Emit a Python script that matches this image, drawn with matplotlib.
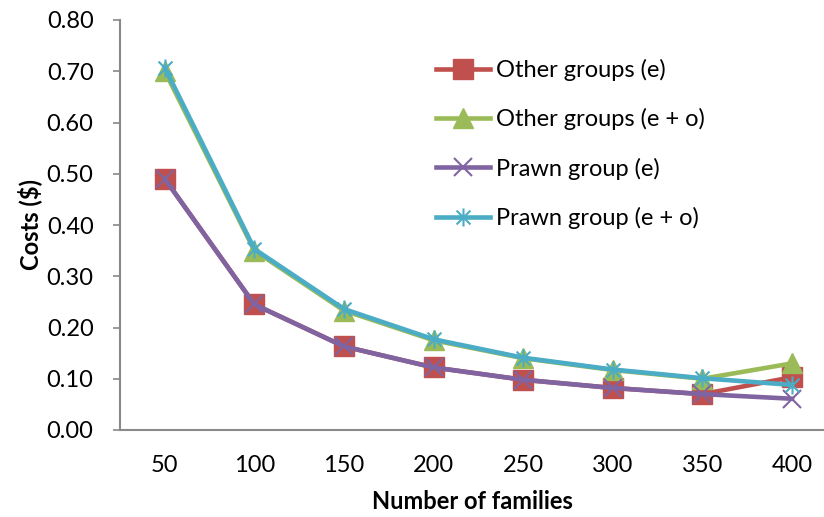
import matplotlib.pyplot as plt
from matplotlib.path import Path

plt.rcParams['font.family'] = ['Lato', 'DejaVu Sans']

families = [50, 100, 150, 200, 250, 300, 350, 400]
other_e = [0.490, 0.245, 0.163, 0.122, 0.098, 0.082, 0.070, 0.103]
other_eo = [0.700, 0.350, 0.233, 0.175, 0.140, 0.117, 0.100, 0.130]
prawn_e = [0.490, 0.245, 0.163, 0.122, 0.098, 0.082, 0.070, 0.061]
prawn_eo = [0.707, 0.353, 0.236, 0.177, 0.141, 0.118, 0.101, 0.088]

# Excel-style asterisk: an x with a vertical bar
star = Path([(-1, -1), (1, 1), (-1, 1), (1, -1), (0, -1.3), (0, 1.3)],
            [Path.MOVETO, Path.LINETO, Path.MOVETO, Path.LINETO, Path.MOVETO, Path.LINETO])

fig = plt.figure(figsize=(8.24, 5.17), dpi=100)
ax = fig.add_axes([120 / 824, 1 - 430 / 517, 1 - 120 / 824, 410 / 517])

x = range(1, len(families) + 1)
ax.plot(x, other_e, color='#C0504D', lw=3.3, marker='s', ms=14, mec='#C0504D', label='Other groups (e)')
ax.plot(x, other_eo, color='#9BBB59', lw=3.3, marker='^', ms=14, mec='#9BBB59', label='Other groups (e + o)')
ax.plot(x, prawn_e, color='#8064A2', lw=3.3, marker='x', ms=13, mew=1.5, label='Prawn group (e)')
ax.plot(x, prawn_eo, color='#4BACC6', lw=3.3, marker=star, ms=13, mew=1.5, label='Prawn group (e + o)')

ax.set_xlim(0.5, 8.357)
ax.set_ylim(0, 0.8)
ax.set_yticks([i / 10 for i in range(9)])
ax.set_yticklabels([f'{i / 10:.2f}' for i in range(9)])
ax.set_xticks(list(x))
ax.set_xticklabels([str(f) for f in families])

for s in ['top', 'right']:
    ax.spines[s].set_visible(False)
for s in ['left', 'bottom']:
    ax.spines[s].set_color('#898989')
    ax.spines[s].set_linewidth(1.5)
ax.tick_params(axis='y', length=5, width=1.2, color='#898989', labelsize=17, pad=14)
ax.tick_params(axis='x', length=0, labelsize=17, pad=18)

ax.set_ylabel('Costs ($)', fontsize=17, fontweight='bold')
ax.set_xlabel('Number of families', fontsize=17, fontweight='bold')
ax.yaxis.set_label_coords(-0.111, 0.5)
ax.xaxis.set_label_coords(0.5, -0.147)

fig.legend(loc='upper left', bbox_to_anchor=(436 / 824, 1 - 59 / 517), frameon=False,
           fontsize=17, handlelength=2.3, handletextpad=0.25, labelspacing=1.15,
           borderpad=0, borderaxespad=0)

fig.savefig('out.png', dpi=100)
